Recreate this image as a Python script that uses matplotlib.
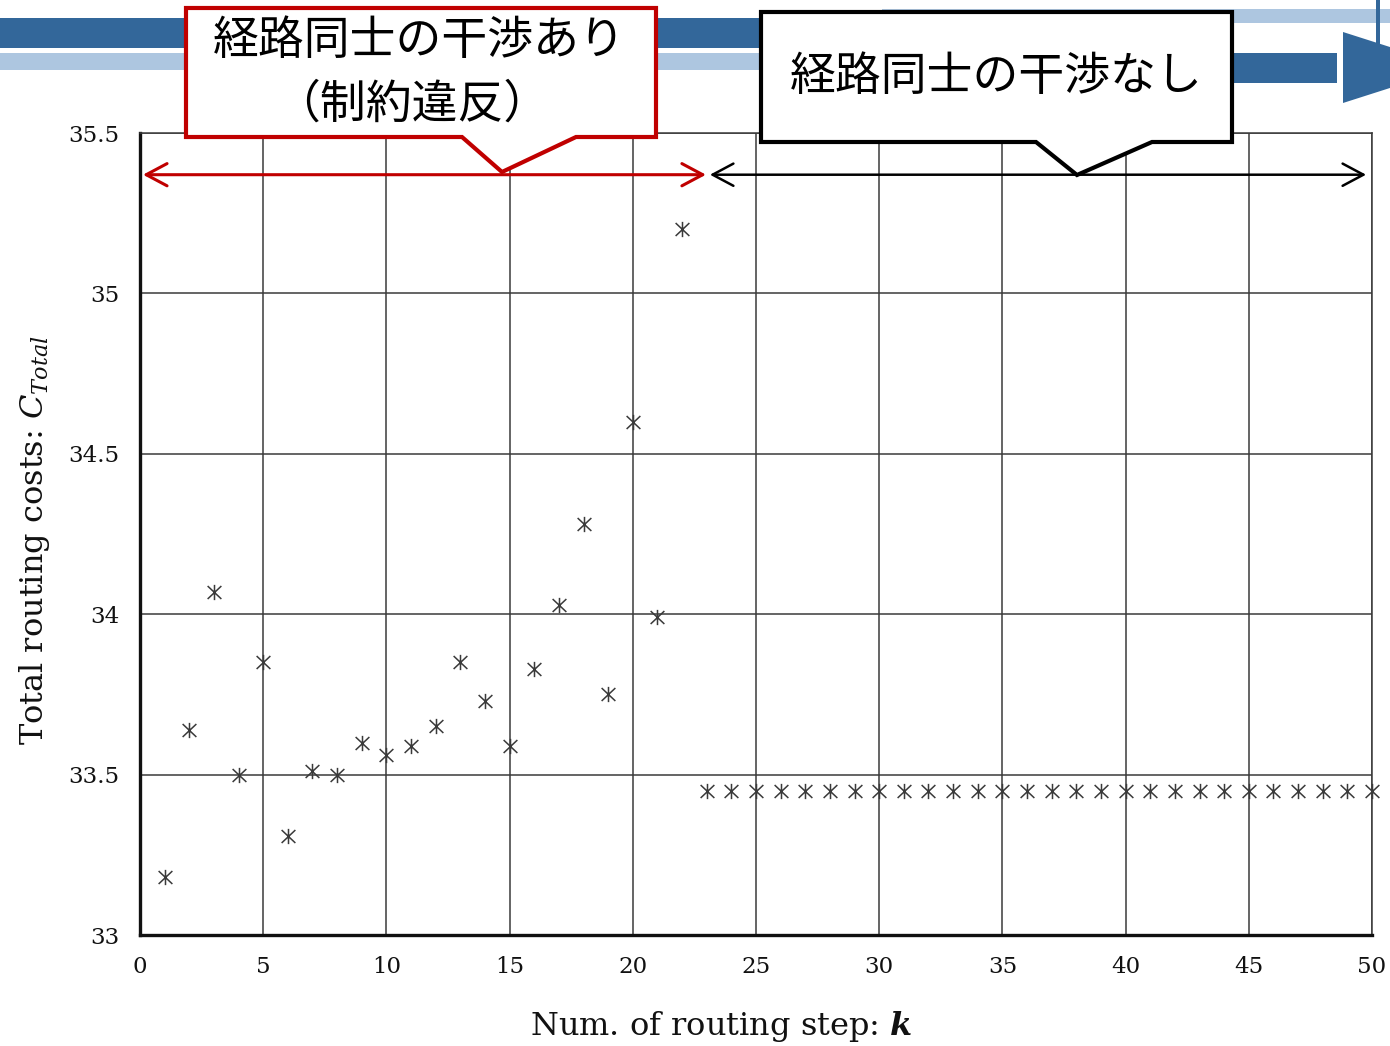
import matplotlib
matplotlib.use("Agg")
import matplotlib.pyplot as plt
from matplotlib.path import Path
from matplotlib.patches import Polygon, Rectangle

# ---- data -------------------------------------------------------------
steps = list(range(1, 51))
total_costs = [
    33.18, 33.64, 34.07, 33.50, 33.85, 33.31, 33.51, 33.50, 33.60, 33.56,
    33.59, 33.65, 33.85, 33.73, 33.59, 33.83, 34.03, 34.28, 33.75, 34.60,
    33.99, 35.20, 33.45, 33.45, 33.45, 33.45, 33.45, 33.45, 33.45, 33.45,
    33.45, 33.45, 33.45, 33.45, 33.45, 33.45, 33.45, 33.45, 33.45, 33.45,
    33.45, 33.45, 33.45, 33.45, 33.45, 33.45, 33.45, 33.45, 33.45, 33.45,
]
x_ticks = [0, 5, 10, 15, 20, 25, 30, 35, 40, 45, 50]
y_ticks = [33, 33.5, 34, 34.5, 35, 35.5]
y_tick_labels = ["33", "33.5", "34", "34.5", "35", "35.5"]

# span of steps with / without route interference
conflict_span = (0.12, 22.97)
free_span = (23.13, 49.76)
span_y = 35.37

label_conflict_1 = "経路同士の干渉あり"
label_conflict_2 = "（制約違反）"
label_free = "経路同士の干渉なし"

# ---- style ------------------------------------------------------------
plt.rcParams["font.family"] = ["DejaVu Serif"]
plt.rcParams["mathtext.fontset"] = "dejavuserif"
JP = ["Noto Sans CJK JP", "DejaVu Sans"]
DARK_BLUE = "#33679A"
LIGHT_BLUE = "#ADC6E0"
RED = "#C00000"

W, H = 1390, 1046
fig = plt.figure(figsize=(W / 100, H / 100), dpi=100)
ax = fig.add_axes([140 / W, 1 - 935 / H, 1232 / W, 802 / H])

# asterisk-like marker: vertical bar plus an X
star_path = Path(
    [(0, -1), (0, 1), (-0.9, -0.85), (0.9, 0.85), (-0.9, 0.85), (0.9, -0.85)],
    [Path.MOVETO, Path.LINETO] * 3,
)
ax.plot(steps, total_costs, linestyle="none", marker=star_path, markersize=11,
        markerfacecolor="none", markeredgecolor="#3a3a3a", markeredgewidth=1.1,
        clip_on=False, zorder=3)

ax.set_xlim(0, 50)
ax.set_ylim(33, 35.5)
ax.set_xticks(x_ticks)
ax.set_yticks(y_ticks)
ax.set_yticklabels(y_tick_labels)
ax.tick_params(length=0, labelsize=16.5, pad=15, colors="#111111")
ax.grid(True, color="#3a3a3a", linewidth=1.1)
ax.set_axisbelow(True)
for side in ("left", "bottom"):
    ax.spines[side].set_linewidth(2.4)
    ax.spines[side].set_color("#111111")
for side in ("top", "right"):
    ax.spines[side].set_linewidth(1.1)
    ax.spines[side].set_color("#3a3a3a")

ax.set_xlabel(r"Num. of routing step: $\mathbfit{k}$", fontsize=23, color="#111111")
ax.xaxis.label.set_va("center")
ax.xaxis.set_label_coords((721 - 140) / 1232, -(1027 - 935) / 802)
ax.set_ylabel(r"Total routing costs: $C_{Total}$", fontsize=23, color="#111111")
ax.yaxis.label.set_va("center")
ax.yaxis.set_label_coords((35 - 140) / 1232, (935 - 540) / 802)

# double-headed span arrows
ax.annotate("", xy=(conflict_span[1], span_y), xytext=(conflict_span[0], span_y),
            arrowprops=dict(arrowstyle="<->,head_length=0.75,head_width=0.4",
                            color=RED, lw=2.2, shrinkA=0, shrinkB=0,
                            mutation_scale=20),
            annotation_clip=False, zorder=4)
ax.annotate("", xy=(free_span[1], span_y), xytext=(free_span[0], span_y),
            arrowprops=dict(arrowstyle="<->,head_length=0.75,head_width=0.4",
                            color="black", lw=1.8, shrinkA=0, shrinkB=0,
                            mutation_scale=20),
            annotation_clip=False, zorder=4)

# ---- overlay in pixel units: header bands and callouts ----------------
ov = fig.add_axes([0, 0, 1, 1], zorder=5)
ov.set_xlim(0, W)
ov.set_ylim(H, 0)
ov.axis("off")
ov.patch.set_alpha(0)

ov.add_patch(Rectangle((0, 18), 1000, 30, color=DARK_BLUE, lw=0))
ov.add_patch(Rectangle((0, 53), 1000, 17, color=LIGHT_BLUE, lw=0))
ov.add_patch(Rectangle((882, 9), W - 882, 14, color=LIGHT_BLUE, lw=0))
ov.add_patch(Rectangle((1000, 53), 337, 30, color=DARK_BLUE, lw=0))
ov.add_patch(Rectangle((1376, 0), 4, 50, color=DARK_BLUE, lw=0))
ov.add_patch(Polygon([(1343, 32), (1454, 67.5), (1343, 103)], closed=True,
                     color=DARK_BLUE, lw=0))

red_callout = [(186, 8), (656, 8), (656, 137), (576, 137), (502, 172),
               (462, 137), (186, 137)]
ov.add_patch(Polygon(red_callout, closed=True, facecolor="white",
                     edgecolor=RED, lw=3.0, joinstyle="miter", zorder=3))
black_callout = [(761, 12), (1232, 12), (1232, 142), (1152, 142), (1077, 175),
                 (1036, 142), (761, 142)]
ov.add_patch(Polygon(black_callout, closed=True, facecolor="white",
                     edgecolor="black", lw=3.0, joinstyle="miter", zorder=3))

ov.text(419, 41, label_conflict_1, family=JP, fontsize=33, ha="center",
        va="center", zorder=4)
ov.text(412, 104, label_conflict_2, family=JP, fontsize=33, ha="center",
        va="center", zorder=4)
ov.text(996, 77, label_free, family=JP, fontsize=33, ha="center",
        va="center", zorder=4)

fig.savefig("out.png", dpi=100, facecolor="white")
